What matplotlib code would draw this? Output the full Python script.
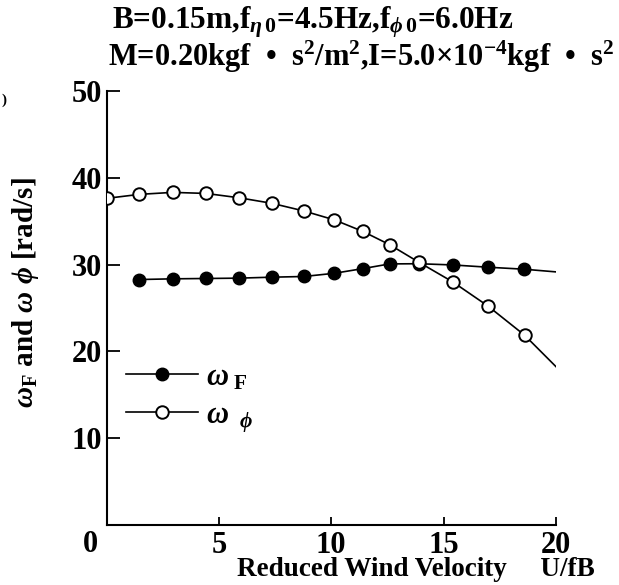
import matplotlib
matplotlib.use("Agg")
import matplotlib.pyplot as plt
from matplotlib.lines import Line2D

plt.rcParams['font.family'] = ['Liberation Serif', 'DejaVu Serif']
plt.rcParams['font.weight'] = 'bold'
plt.rcParams['mathtext.fontset'] = 'custom'
plt.rcParams['mathtext.rm'] = 'Liberation Serif:bold'
plt.rcParams['mathtext.bf'] = 'Liberation Serif:bold'
plt.rcParams['mathtext.it'] = 'Liberation Serif:italic:bold'

# Data; last point of each line is an unmarked line end
x_F = [1.46, 2.94, 4.42, 5.90, 7.36, 8.78, 10.14, 11.41, 12.60, 13.90, 15.41, 16.97, 18.57, 20.0]
y_F = [28.28, 28.36, 28.40, 28.44, 28.55, 28.63, 29.00, 29.54, 30.08, 30.10, 29.96, 29.70, 29.47, 29.16]
x_P = [0.0, 1.46, 2.94, 4.42, 5.90, 7.36, 8.78, 10.14, 11.41, 12.60, 13.90, 15.41, 16.97, 18.60, 20.0]
y_P = [37.63, 38.09, 38.32, 38.20, 37.70, 37.06, 36.18, 35.15, 33.82, 32.29, 30.27, 28.00, 25.23, 21.87, 18.24]

xticks = [5, 10, 15, 20]
xticklabels = ['5', '10', '15', '20']
yticks = [10, 20, 30, 40, 50]
yticklabels = ['10', '20', '30', '40', '50']

W, H = 619, 585
fig = plt.figure(figsize=(W / 100, H / 100), dpi=100)
ax = fig.add_axes([106.5 / W, 1 - 525 / H, (556 - 106.5) / W, (525 - 91) / H])

lw = 1.2
ms = 9
ax.plot(x_F, y_F, color='black', lw=lw, marker='o', ms=ms, mfc='black', mec='black',
        markevery=list(range(len(x_F) - 1)), zorder=2)
ax.plot(x_P, y_P, color='black', lw=lw, marker='o', ms=ms, mfc='white', mec='black', mew=1.4,
        markevery=list(range(len(x_P) - 1)), zorder=3)

ax.set_xlim(0, 20)
ax.set_ylim(0, 50)
for s in ['top', 'right']:
    ax.spines[s].set_visible(False)
for s in ['left', 'bottom']:
    ax.spines[s].set_linewidth(1.5)

ax.set_xticks(xticks)
ax.set_xticklabels(xticklabels)
ax.set_yticks(yticks)
ax.set_yticklabels(yticklabels)
ax.tick_params(axis='both', direction='in', labelsize=22, width=1.3)
ax.tick_params(axis='x', length=6, pad=4)
ax.tick_params(axis='y', length=9, pad=3)
for lab in ax.get_xticklabels() + ax.get_yticklabels():
    lab.set_fontweight('bold')

# shared origin label '0', below-left of the origin
fig.text(90 / W, 1 - 544 / H, '0', ha='center', va='center', fontsize=22, fontweight='bold')

ax.set_xlabel('Reduced Wind Velocity     U/fB', fontsize=19.5, fontweight='bold')
ax.xaxis.set_label_coords((416 - 106.5) / 449.5, (525 - 570) / 434)
ax.xaxis.label.set_va('center')
ax.set_ylabel(r'$\omega_{\rm F}$ and $\omega$ $\phi$ [rad/s]', fontsize=21, fontweight='bold')
ax.yaxis.set_label_coords((26 - 106.5) / 449.5, (525 - 293) / 434)
ax.yaxis.label.set_va('center')

fig.text(112 / W, 1 - 22 / H, r'B=0.15m,f$_{\eta\,0}$=4.5Hz,f$_{\phi\,0}$=6.0Hz',
         fontsize=22.5, fontweight='bold', va='center', ha='left')
fig.text(108 / W, 1 - 57 / H, r'M=0.20kgf  •  s$^2$/m$^2$,I=5.0×10$^{-4}$kgf  •  s$^2$',
         fontsize=22, fontweight='bold', va='center', ha='left')
fig.text(1 / W, 1 - 100 / H, ')', fontsize=11, fontweight='bold', va='center', ha='left')

handles = [Line2D([0], [0], color='black', lw=lw, marker='o', ms=ms, mfc='black', mec='black'),
           Line2D([0], [0], color='black', lw=lw, marker='o', ms=ms, mfc='white', mec='black', mew=1.4)]
labels = [r'$\omega_{\ \rm F}$', r'$\omega_{\ \ \phi}$']
leg = ax.legend(handles, labels, loc='upper left', bbox_to_anchor=((126 - 106.5) / 449.5, (525 - 363) / 434),
                frameon=False, borderpad=0, borderaxespad=0,
                handlelength=2.36, handletextpad=0.25, fontsize=22, labelspacing=0.3)

fig.savefig('out.png', dpi=100)
